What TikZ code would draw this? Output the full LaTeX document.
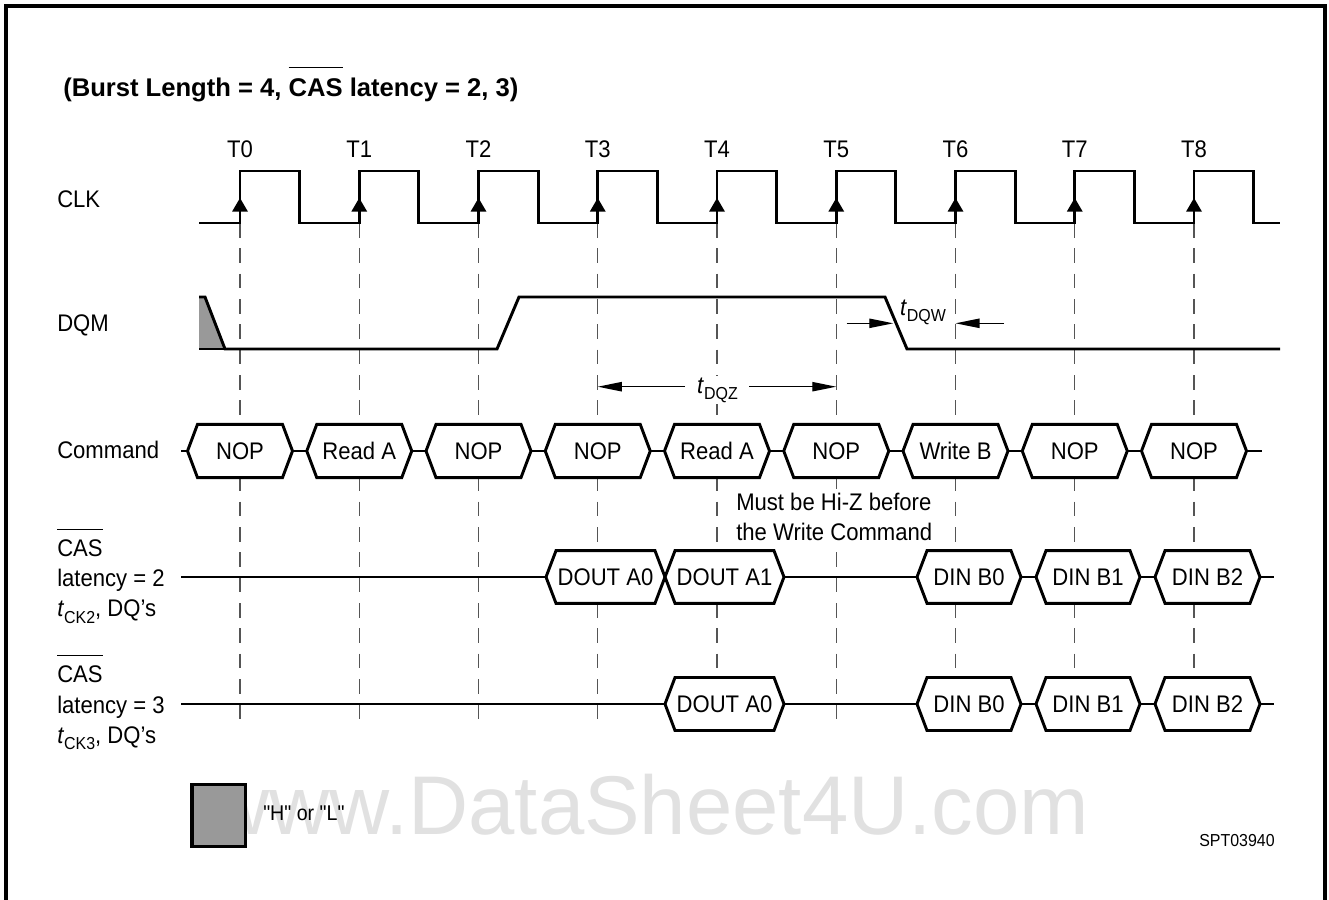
\documentclass[tikz,border=0pt]{standalone}
\usepackage{fontspec}
\setmainfont[FakeStretch=0.92]{Liberation Sans}
\newfontfamily\titlefont{Liberation Sans}
\newfontfamily\legfont[FakeStretch=0.92,Ligatures=TeXOff]{Liberation Sans}
\usetikzlibrary{arrows.meta}
\definecolor{hl}{HTML}{999999}
\definecolor{wmark}{HTML}{E1E1E1}
\definecolor{gridc}{HTML}{555555}
\newcommand\ovl[1]{\leavevmode\setbox0\hbox{#1}\rlap{\raisebox{1.6\ht0}{\rule{\wd0}{0.8pt}}}\box0\relax}
\newcommand\tsub[1]{\textit{t}\raisebox{-5pt}{\fontsize{13}{13}\selectfont #1}}
\newcommand\hexbox[6]{%
  \draw[sig,fill=white] (#2,#4) -- (#2+10,#4-#5) -- (#3-10,#4-#5) -- (#3,#4) -- (#3-10,#4+#5) -- (#2+10,#4+#5) -- cycle;
  \node[boxtxt] (#1) at ({(#2+#3)/2},#4) {#6};}
\newcommand\cmdbox[3]{\hexbox{#1}{#2-52.5}{#2+52.5}{451}{26.6}{#3}}
\begin{document}
\begin{tikzpicture}[x=0.75pt,y=-0.75pt,
  sig/.style={line width=2.2pt, line join=miter},
  gridl/.style={line width=0.9pt, draw=gridc, dash pattern=on 11pt off 8pt},
  tarr/.style={line width=0.9pt, -{Triangle[length=18pt,width=7pt]}},
  lbl/.style={inner sep=0pt, anchor=base west, font=\fontsize{18}{21}\selectfont},
  boxtxt/.style={inner sep=0pt, font=\fontsize{18}{21}\selectfont}]
\useasboundingbox (0,0) rectangle (1329,900);
% frame
\draw[line width=2.3pt] (6,900) -- (6,6) -- (1325,6) -- (1325,900);
% title
\node[anchor=base west, inner sep=0pt, font=\titlefont\bfseries\fontsize{19.2}{22}\selectfont] (title) at (63,96.7) {(Burst Length = 4, \ovl{CAS} latency = 2, 3)};
% clock positions
\foreach \k in {0,...,8}{
  \pgfmathsetmacro\tx{240+119.25*\k}
  \coordinate (T\k) at (\tx,223);
}
% dashed grid
\foreach \k in {0,...,8} \draw[gridl] (T\k) -- ++(0,502);
% clock
\draw[sig] (199,223) \foreach \k in {0,...,8}{ -- (T\k) -- ++(0,-52) -- ++(59.6,0) -- ++(0,52)} -- (1280,223);
\foreach \k in {0,...,8} \fill (T\k) ++(0,-25) -- ++(-8,13.7) -- ++(16,0) -- cycle;
\foreach \k in {0,...,8} \path (T\k) ++(0,-66) node[lbl,anchor=base] (lT\k) {T\k};
% left labels
\node[lbl] (clk) at (57,207) {CLK};
\node[lbl] (dqm) at (57,331) {DQM};
\node[lbl] (cmd) at (57,458) {Command};
\node[lbl] (c2a) at (57,556.7) {\ovl{CAS}};
\node[lbl] (c2b) at (57,586.7) {latency = 2};
\node[lbl] (c2c) at (57,616.7) {\tsub{CK2}, DQ’s};
\node[lbl] (c3a) at (57,682.7) {\ovl{CAS}};
\node[lbl] (c3b) at (57,713) {latency = 3};
\node[lbl] (c3c) at (57,743) {\tsub{CK3}, DQ’s};
% DQM
\fill[hl] (199,297) -- (205,297) -- (225,349) -- (199,349) -- cycle;
\draw[sig] (199,297) -- (205,297) -- (225,349) -- (497,349) -- (519,297) -- (885,297) -- (907,349) -- (1280,349);
\draw[sig] (199,349) -- (225,349);
% tDQW
\node[lbl,anchor=base] (dqw) at (923,315) {\tsub{DQW}};
\coordinate (dqwl) at (846.7,323.3);
\coordinate (dqwr) at (1004,323.3);
\draw[tarr] (dqwl) -- (893.3,323.3);
\draw[tarr] (dqwr) -- (dqwr -| T6);
% tDQZ
\node[lbl,anchor=base,fill=white,inner sep=1pt] (dqz) at (717.5,393) {\tsub{DQZ}};
\coordinate (dqzl) at (685,386.7);
\coordinate (dqzr) at (749,386.7);
\draw[tarr] (dqzl) -- (dqzl -| T3);
\draw[tarr] (dqzr) -- (dqzr -| T5);
% command row
\draw[sig] (181,451) -- (1262,451);
\cmdbox{c0}{240}{NOP}
\cmdbox{c1}{359.25}{Read A}
\cmdbox{c2}{478.5}{NOP}
\cmdbox{c3}{597.75}{NOP}
\cmdbox{c4}{717}{Read A}
\cmdbox{c5}{836.25}{NOP}
\cmdbox{c6}{955.5}{Write B}
\cmdbox{c7}{1074.75}{NOP}
\cmdbox{c8}{1194}{NOP}
% note
\node[lbl,fill=white,text height=16pt,text depth=6pt] (note1) at (736,510.7) {Must be Hi-Z before};
\node[lbl,fill=white,text height=16pt,text depth=6pt] (note2) at (736,540) {the Write Command};
% CAS latency 2 row
\draw[sig] (181,577) -- (1274,577);
\hexbox{d2a}{546}{665}{577}{26.3}{DOUT A0}
\hexbox{d2b}{665}{784}{577}{26.3}{DOUT A1}
\hexbox{d2c}{917}{1021}{577}{26.3}{DIN B0}
\hexbox{d2d}{1036}{1140}{577}{26.3}{DIN B1}
\hexbox{d2e}{1155}{1260}{577}{26.3}{DIN B2}
% CAS latency 3 row
\draw[sig] (181,704) -- (1274,704);
\hexbox{d3a}{665}{784}{704}{26.5}{DOUT A0}
\hexbox{d3c}{917}{1021}{704}{26.5}{DIN B0}
\hexbox{d3d}{1036}{1140}{704}{26.5}{DIN B1}
\hexbox{d3e}{1155}{1260}{704}{26.5}{DIN B2}
% watermark
\node[anchor=base west, inner sep=0pt, text=wmark, font=\titlefont\fontsize{62.5}{64}\selectfont] (wm) at (209,834) {www.DataSheet4U.com};
% legend
\node[draw, line width=2.4pt, fill=hl, minimum width=40.3pt, minimum height=46.8pt, inner sep=0pt] (leg) at (218.9,815.5) {};
\node[lbl, font=\legfont\fontsize{16}{20}\selectfont] (legt) at (263,820) {"H" or "L"};
\node[lbl, font=\fontsize{13}{15}\selectfont] (spt) at (1199,846) {SPT03940};
\end{tikzpicture}
\end{document}
